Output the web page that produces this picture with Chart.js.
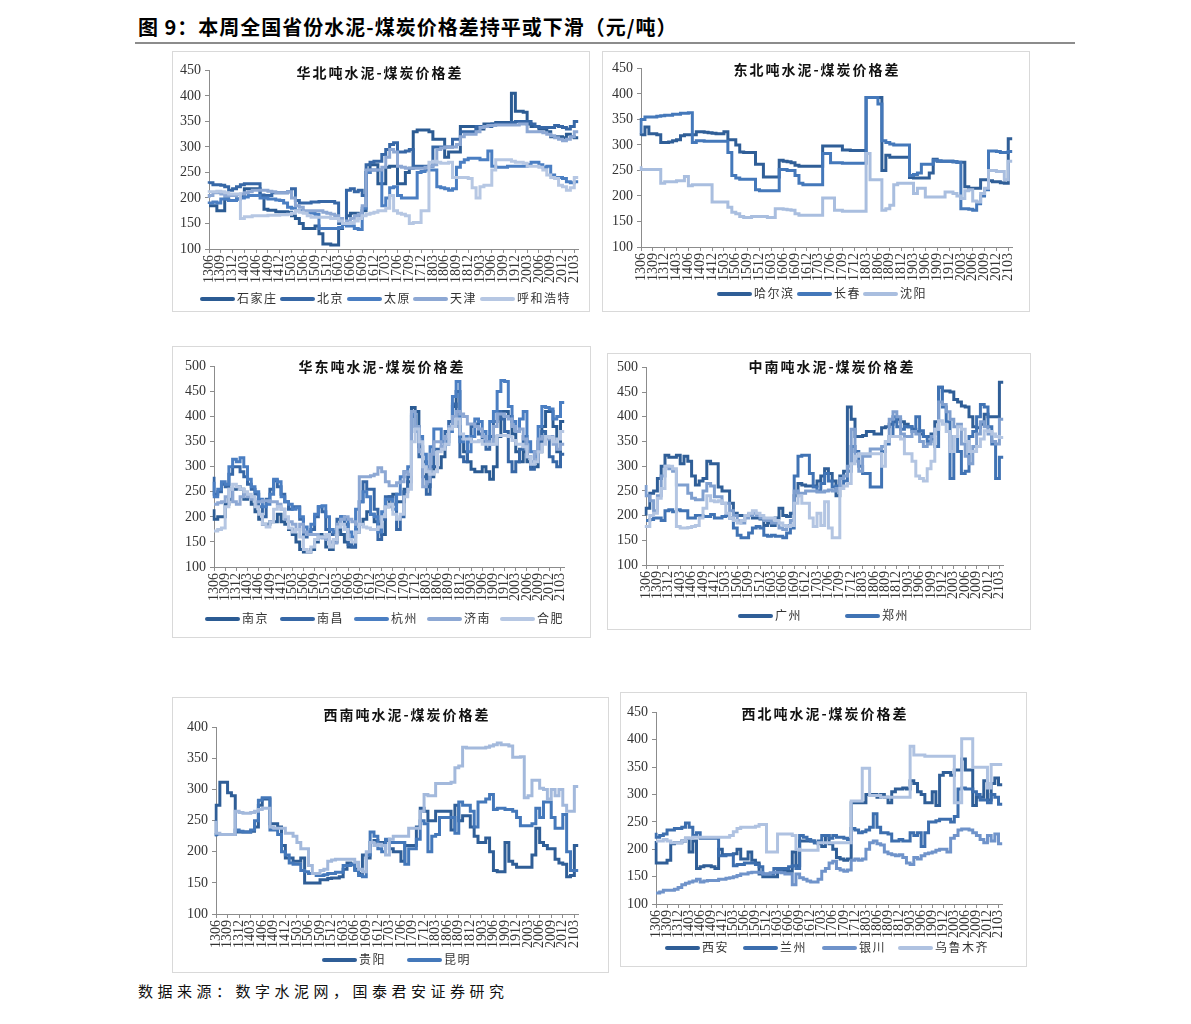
<!DOCTYPE html>
<html>
<head>
<meta charset="utf-8">
<script src="https://cdn.jsdelivr.net/npm/chart.js@4.4.0/dist/chart.umd.min.js"></script>
<style>
body { margin: 0; background: #fff; width: 1191px; height: 1024px; position: relative; overflow: hidden; font-family: "Noto Sans CJK SC", sans-serif; }
.box { position: absolute; border: 1px solid #d9d9d9; box-sizing: border-box; }
.cv { position: absolute; }
.ttl { position: absolute; font-weight: bold; font-size: 14px; letter-spacing: 2px; white-space: nowrap; color: #111; transform: translate(-50%, -50%); }
.lg { position: absolute; font-size: 12px; color: #333; white-space: nowrap; letter-spacing: 1.5px; line-height: 16px; transform: translateY(-50%); }
.lg .mk { display: inline-block; width: 35px; height: 4px; border-radius: 2px; vertical-align: middle; margin-right: 2px; position: relative; top: -1px; }
#head { position: absolute; left: 138px; top: 12px; font-size: 20px; font-weight: bold; letter-spacing: 1px; color: #000; white-space: nowrap; }
#rule { position: absolute; left: 135px; top: 42px; width: 940px; height: 2px; background: #8c8c8c; }
#src { position: absolute; left: 138px; top: 980px; font-size: 15px; letter-spacing: 4.5px; color: #111; white-space: nowrap; }
</style>
</head>
<body>
<div id="head">图 9：本周全国省份水泥-煤炭价格差持平或下滑（元/吨）</div>
<div id="rule"></div>
<div id="src">数据来源：数字水泥网，国泰君安证券研究</div>
<script>
// monthly categories 2013-06 .. 2021-04
const months = [
  '1306','1307','1308','1309','1310','1311','1312',
  '1401','1402','1403','1404','1405','1406','1407','1408','1409','1410','1411','1412',
  '1501','1502','1503','1504','1505','1506','1507','1508','1509','1510','1511','1512',
  '1601','1602','1603','1604','1605','1606','1607','1608','1609','1610','1611','1612',
  '1701','1702','1703','1704','1705','1706','1707','1708','1709','1710','1711','1712',
  '1801','1802','1803','1804','1805','1806','1807','1808','1809','1810','1811','1812',
  '1901','1902','1903','1904','1905','1906','1907','1908','1909','1910','1911','1912',
  '2001','2002','2003','2004','2005','2006','2007','2008','2009','2010','2011','2012',
  '2101','2102','2103','2104'
];

// 华北
const shijiazhuang = [185,185,185,175,175,198,195,
  195,198,205,218,218,218,218,205,178,176,176,173,
  173,173,172,165,160,150,140,140,140,145,130,110,
  110,108,108,140,150,165,170,170,160,175,250,265,
  265,228,228,260,262,262,228,228,250,258,330,333,
  333,333,330,315,315,315,280,290,290,290,340,340,
  340,340,335,335,345,345,345,348,348,348,348,405,
  370,370,368,345,340,340,335,335,330,320,320,320,
  318,325,320,318];
const beijing = [228,230,226,226,225,222,215,
  218,222,226,228,228,228,228,206,205,205,210,210,
  210,210,212,218,195,190,190,190,192,192,193,193,
  193,193,190,150,150,215,218,212,215,205,265,270,
  272,272,285,295,305,308,290,290,292,295,262,262,
  262,262,262,300,300,300,300,300,315,315,330,330,
  330,330,340,340,340,340,345,345,345,345,345,348,
  350,350,350,350,345,340,338,338,338,338,342,340,
  338,335,340,350];
const taiyuan = [188,190,192,190,198,198,195,
  195,198,200,202,205,205,205,200,200,198,198,196,
  195,190,182,180,175,175,172,172,170,168,140,140,
  140,140,140,142,148,145,145,140,138,180,250,255,
  255,255,185,200,220,222,205,200,200,200,200,250,
  252,255,255,255,222,220,218,215,218,260,270,275,
  278,278,278,275,275,292,262,260,260,260,262,262,
  262,262,262,265,270,270,265,260,262,245,240,240,
  238,232,230,232];
const tianjin = [200,205,210,210,208,205,205,
  205,207,208,210,212,215,215,215,215,213,212,210,
  210,210,212,200,185,182,175,175,175,175,175,172,
  170,168,165,160,150,155,160,165,168,185,255,255,
  255,255,260,280,295,290,262,260,258,258,258,258,
  258,260,262,265,295,298,300,300,300,305,320,325,
  325,325,330,338,340,342,342,343,343,343,343,343,
  343,345,345,330,330,330,330,328,325,322,318,315,
  312,315,320,330];
const huhehaote = [210,212,212,213,212,210,208,
  208,208,160,163,163,165,165,165,165,166,166,166,
  167,167,168,170,175,172,170,165,162,162,162,162,
  162,160,160,155,150,150,152,155,160,165,168,170,
  172,175,175,180,205,175,170,168,165,150,152,152,
  175,175,270,272,270,268,268,270,240,240,240,240,
  238,220,200,222,225,225,255,275,275,275,275,272,
  270,270,268,262,262,262,260,255,245,240,238,225,
  222,215,220,240];

// 东北
const haerbin = [318,320,335,322,322,320,305,
  305,306,308,310,318,320,320,320,326,326,325,324,
  323,322,322,326,310,310,300,286,285,285,285,262,
  262,237,237,237,237,270,268,267,265,260,258,258,
  258,258,258,258,298,298,298,298,298,290,290,289,
  289,289,289,393,393,393,393,250,280,276,276,276,
  276,276,236,235,235,235,235,245,272,268,268,268,
  268,267,266,266,218,215,215,215,232,232,230,228,
  228,226,225,312];
const changchun = [322,350,355,355,355,356,357,
  358,358,360,360,362,362,363,305,308,308,307,307,
  307,307,307,307,285,240,235,233,233,233,233,212,
  210,210,210,210,210,252,252,250,250,240,225,222,
  222,222,222,222,283,283,265,265,265,264,264,264,
  264,264,264,393,393,393,380,308,305,302,300,300,
  300,300,240,242,245,262,262,262,270,269,268,268,
  268,267,266,175,175,174,172,185,200,212,288,288,
  287,285,285,287];
const shenyang = [258,252,252,252,252,252,225,
  228,228,228,230,230,238,220,222,222,222,222,222,
  188,188,188,188,178,168,165,160,158,158,160,160,
  160,160,158,158,175,175,174,173,172,165,162,162,
  162,162,162,162,196,196,196,172,172,170,170,170,
  170,170,170,283,232,232,232,172,175,182,222,225,
  225,225,225,205,215,215,198,198,198,198,198,208,
  208,205,200,195,210,212,190,188,205,215,250,250,
  248,248,232,268];

// 华东
const nanjing = [215,195,200,200,225,235,255,
  260,255,235,240,225,210,195,185,185,190,190,205,
  190,185,175,165,150,135,130,130,135,150,165,160,
  140,135,150,175,165,150,140,140,170,185,195,210,
  205,190,185,165,220,240,245,230,230,255,270,418,
  410,340,310,260,280,300,298,320,350,380,420,450,
  360,330,310,295,290,290,300,290,275,300,360,410,
  410,400,365,330,310,330,310,300,300,330,380,410,
  410,380,330,390];
const nanchang = [280,245,250,265,260,285,300,
  300,290,280,265,255,245,220,200,235,255,272,260,
  245,230,215,220,220,195,160,165,175,200,220,210,
  175,165,170,195,200,185,145,140,175,230,270,255,
  255,215,155,195,240,240,225,175,200,250,280,400,
  380,320,280,245,300,335,335,340,370,390,425,380,
  320,310,350,380,385,365,350,335,360,390,410,395,
  370,310,290,310,335,360,320,295,310,350,370,360,
  320,310,300,325];
const hangzhou = [270,240,255,270,265,300,315,
  310,318,300,275,260,250,235,220,225,245,275,270,
  240,230,225,215,218,200,180,170,185,205,220,222,
  200,175,170,180,200,195,170,160,215,230,250,240,
  205,200,170,210,235,235,215,245,280,290,300,405,
  370,360,325,300,340,375,375,350,345,370,440,470,
  350,360,330,360,395,390,370,350,390,410,450,472,
  470,420,390,370,395,410,350,330,320,380,420,418,
  415,395,400,428];
const jinan = [225,225,228,230,240,255,230,
  225,240,245,240,235,230,230,232,232,230,230,225,
  215,195,190,185,175,185,170,165,165,165,160,158,
  155,150,148,185,195,200,195,190,185,280,280,280,
  282,285,298,290,270,262,262,268,270,290,285,410,
  380,330,260,270,325,350,350,340,360,380,400,410,
  405,400,385,385,380,375,360,350,345,380,405,405,
  400,395,380,370,375,355,320,310,330,355,360,355,
  360,345,335,345];
const hefei = [172,172,175,178,220,255,265,
  260,255,250,245,240,220,205,185,180,190,215,220,
  215,200,178,170,175,160,135,130,140,155,160,160,
  165,140,155,180,185,175,155,150,170,185,180,178,
  175,175,180,200,220,225,205,195,205,240,255,350,
  375,350,300,290,285,290,330,335,345,375,380,395,
  365,355,355,350,350,352,345,345,345,345,362,362,
  362,360,352,345,345,340,320,305,310,330,345,360,
  358,350,355,370];

// 中南 (legend names only 广州, 郑州)
const guangzhou = [200,215,245,250,275,300,322,
  318,318,322,305,320,310,280,262,270,275,310,305,
  305,258,250,250,225,205,200,200,200,202,195,195,
  193,180,185,180,195,215,200,198,205,240,265,262,
  260,260,260,270,280,295,285,270,240,280,290,420,
  395,360,360,362,370,370,365,365,378,380,385,390,
  395,390,385,380,375,370,365,360,360,365,390,460,
  452,452,450,435,430,422,420,400,380,378,385,405,
  400,400,400,470];
const zhengzhou = [190,190,192,195,195,190,210,
  212,208,212,210,210,195,195,200,200,198,198,202,
  195,195,198,200,195,175,160,155,155,165,175,178,
  175,160,158,160,158,158,155,165,175,280,320,322,
  322,285,258,250,265,285,270,258,260,255,270,290,
  340,330,300,285,285,258,258,258,330,345,360,400,
  380,375,380,380,370,400,372,360,350,355,340,460,
  420,390,275,360,330,285,290,360,370,400,425,420,
  380,345,275,318];
const zhongnan3 = [262,240,230,210,240,280,300,
  295,290,262,262,262,245,235,232,232,250,265,260,
  238,238,225,225,210,200,190,185,195,200,205,200,
  195,190,190,185,185,175,172,180,190,250,245,245,
  250,250,250,248,248,250,252,250,255,275,280,300,
  375,310,290,320,320,335,335,335,340,350,395,410,
  400,365,360,360,370,365,350,340,345,360,375,430,
  425,410,395,380,385,345,320,305,340,365,390,380,
  365,350,345,395];
const zhongnan4 = [175,178,200,205,235,255,300,
  300,295,178,175,175,176,178,180,195,215,240,230,
  228,230,225,205,195,190,185,190,200,205,210,205,
  200,195,195,195,190,185,180,178,180,225,240,225,
  225,195,178,205,180,228,175,155,155,255,260,265,
  305,320,325,325,325,325,325,325,300,350,360,360,
  360,355,325,325,310,280,275,270,295,310,375,392,
  385,370,330,360,380,375,350,330,330,340,355,372,
  370,365,360,358];

// 西南 (legend names only 贵阳, 昆明)
const guiyang = [225,275,312,312,295,290,232,
  232,232,232,233,240,275,285,285,245,245,240,210,
  190,190,185,185,190,150,150,150,150,155,155,157,
  158,158,160,172,182,180,172,165,195,190,215,218,
  215,215,218,205,200,200,185,210,210,210,240,270,
  265,250,250,265,265,265,265,235,275,250,258,258,
  240,225,215,215,222,200,170,168,168,215,185,180,
  175,175,175,175,195,238,215,210,205,205,188,182,
  180,160,162,210];
const kunming = [225,228,228,228,228,228,235,
  233,232,232,235,250,283,287,287,235,235,228,200,
  195,182,180,180,170,168,165,165,162,162,163,165,
  165,167,167,178,178,180,170,162,160,195,232,225,
  205,200,220,215,215,215,215,180,205,205,220,250,
  245,200,225,228,255,255,255,255,230,280,275,275,
  265,240,280,280,285,292,268,270,270,268,268,265,
  255,242,242,242,245,270,255,280,280,255,238,238,
  260,200,170,170];
const xinan3 = [250,230,228,228,228,228,265,
  263,262,262,263,265,268,270,270,240,238,238,238,
  230,230,225,215,205,205,178,165,165,170,172,185,
  187,188,188,188,188,188,183,172,168,200,215,210,
  212,210,195,220,225,225,225,225,238,238,238,265,
  292,290,290,310,310,310,310,312,335,338,368,367,
  367,367,367,367,368,370,372,375,372,372,370,352,
  352,353,287,290,315,315,302,300,285,300,290,300,
  275,265,265,305];

// 西北
const xian = [215,175,175,175,180,210,212,
  212,215,220,195,215,165,168,170,170,168,165,200,
  190,190,190,192,200,182,182,195,180,175,155,150,
  150,150,150,160,160,160,160,195,170,215,215,215,
  215,212,210,205,225,210,200,185,182,180,182,285,
  285,285,285,300,300,300,295,300,295,285,305,310,
  310,312,310,325,320,305,300,285,285,305,280,335,
  340,340,335,345,345,365,345,345,280,295,295,325,
  290,320,330,318];
const lanzhou = [230,222,225,228,235,235,238,
  238,240,248,240,225,230,220,220,220,220,220,188,
  188,190,190,170,172,172,175,175,175,172,168,155,
  155,155,165,165,165,165,168,170,165,225,222,218,
  215,212,215,225,225,220,225,222,222,220,218,238,
  235,230,232,235,240,265,240,230,230,228,215,215,
  218,215,215,230,225,230,205,230,250,250,252,255,
  255,255,250,260,310,312,310,310,305,300,290,290,
  285,300,295,282];
const yinchuan = [120,120,122,125,125,125,127,
  130,135,138,140,142,145,140,142,143,143,143,145,
  145,147,148,150,152,155,155,157,158,158,157,155,
  155,157,158,158,157,155,155,135,155,148,145,142,
  140,140,145,160,165,175,178,165,162,160,162,180,
  182,180,182,200,212,215,210,208,195,192,190,188,
  190,185,175,172,185,182,188,192,193,195,198,200,
  200,195,220,225,235,237,237,235,230,225,218,212,
  225,215,228,210];
const wulumuqi = [215,215,215,218,215,212,212,
  212,215,220,220,222,222,222,222,222,222,222,222,
  222,222,225,232,238,240,240,240,240,242,245,245,
  195,195,195,228,228,228,228,225,200,198,198,198,
  198,198,212,212,212,212,212,212,212,212,212,288,
  288,288,348,348,298,298,298,295,295,295,295,295,
  295,295,295,388,372,372,372,370,370,370,370,370,
  370,370,370,285,285,402,402,402,350,350,350,350,
  312,355,355,355];

const C5 = ['#2b5b93', '#3667a6', '#4a7ec2', '#8da8d4', '#b6c7e3'];

// layout: box [l,t,r,b], plot [x0, yTop, x1, yBottom], title centre, legend
const panels = [
  { title: '华北吨水泥-煤炭价格差', box: [172, 51, 590, 312], plot: [208.7, 68.3, 587, 249], y: [100, 450], tt: [380, 72],
    series: [['石家庄', shijiazhuang, C5[0]], ['北京', beijing, C5[1]], ['太原', taiyuan, C5[2]], ['天津', tianjin, C5[3]], ['呼和浩特', huhehaote, C5[4]]],
    nLeg: 5, lgX: [200, 280, 347, 413, 480], lgY: 298 },
  { title: '东北吨水泥-煤炭价格差', box: [602, 51, 1030, 312], plot: [640.7, 66, 1020.5, 246.7], y: [100, 450], tt: [817, 69],
    series: [['哈尔滨', haerbin, '#2f5e97'], ['长春', changchun, '#4478ba'], ['沈阳', shenyang, '#a9bedf']],
    nLeg: 3, lgX: [717, 797, 863], lgY: 293 },
  { title: '华东吨水泥-煤炭价格差', box: [172, 346, 591, 638], plot: [213.7, 364, 572.5, 567.3], y: [100, 500], tt: [382, 366],
    series: [['南京', nanjing, C5[0]], ['南昌', nanchang, C5[1]], ['杭州', hangzhou, C5[2]], ['济南', jinan, C5[3]], ['合肥', hefei, C5[4]]],
    nLeg: 5, lgX: [205, 280, 354, 427, 500], lgY: 618 },
  { title: '中南吨水泥-煤炭价格差', box: [607, 353, 1031, 630], plot: [645.7, 365, 1012.2, 565], y: [100, 500], tt: [832, 366],
    series: [['广州', guangzhou, '#2f5e97'], ['郑州', zhengzhou, '#4073b4'], ['', zhongnan3, '#7f9fcf'], ['', zhongnan4, '#b3c5e2']],
    nLeg: 2, lgX: [738, 845], lgY: 615 },
  { title: '西南吨水泥-煤炭价格差', box: [172, 697, 609, 973], plot: [216, 725, 586.6, 914.3], y: [100, 400], tt: [407, 714],
    series: [['贵阳', guiyang, '#2f5e97'], ['昆明', kunming, '#4478ba'], ['', xinan3, '#a3b9dc']],
    nLeg: 2, lgX: [322, 407], lgY: 959 },
  { title: '西北吨水泥-煤炭价格差', box: [620, 692, 1027, 967], plot: [655.7, 710, 1010.5, 904], y: [100, 450], tt: [825, 713],
    series: [['西安', xian, '#2f5e97'], ['兰州', lanzhou, '#3c6eae'], ['银川', yinchuan, '#6f93ca'], ['乌鲁木齐', wulumuqi, '#afc2e1']],
    nLeg: 4, lgX: [665, 743, 822, 898], lgY: 947 }
];

const PAD_L = 48, PAD_T = 10, PAD_R = 10, AX_H = 45;

function addDiv(cls, html, css) {
  const d = document.createElement('div');
  d.className = cls;
  d.innerHTML = html;
  Object.assign(d.style, css);
  document.body.appendChild(d);
  return d;
}

function buildPanel(p) {
  const [bl, bt, br, bb] = p.box;
  addDiv('box', '', { left: bl + 'px', top: bt + 'px', width: (br - bl) + 'px', height: (bb - bt) + 'px' });

  const [x0, yT, x1, yB] = p.plot;
  const left = Math.round(x0 - PAD_L);
  const top = Math.round(yT - PAD_T);
  const cv = document.createElement('canvas');
  cv.className = 'cv';
  cv.width = Math.round(x1) - left + PAD_R;
  cv.height = Math.round(yB) - top + AX_H;
  cv.style.left = left + 'px';
  cv.style.top = top + 'px';
  document.body.appendChild(cv);

  new Chart(cv, {
    type: 'line',
    data: {
      labels: months,
      datasets: p.series.map((s, k) => ({
        label: s[0],
        data: s[1],
        borderColor: s[2],
        backgroundColor: s[2],
        borderWidth: 3,
        pointRadius: 0,
        stepped: 'after',
        fill: false,
        order: -k
      }))
    },
    options: {
      responsive: false,
      animation: false,
      devicePixelRatio: 1,
      layout: { padding: { left: 0, top: PAD_T, right: PAD_R, bottom: 0 } },
      plugins: { legend: { display: false }, tooltip: { enabled: false } },
      scales: {
        x: {
          offset: false,
          border: { color: '#8c8c8c' },
          grid: {
            drawOnChartArea: false,
            tickLength: 4,
            tickColor: c => (c.index % 3 === 0 ? '#8c8c8c' : 'rgba(0,0,0,0)')
          },
          ticks: {
            autoSkip: false,
            maxRotation: 90,
            minRotation: 90,
            padding: 2,
            color: '#333',
            font: { family: 'Liberation Serif', size: 14 },
            callback: (v, i) => (i % 3 === 0 ? months[i] : '')
          },
          afterFit: s => { s.height = AX_H; }
        },
        y: {
          min: p.y[0],
          max: p.y[1],
          border: { color: '#8c8c8c' },
          grid: { drawOnChartArea: false, tickLength: 4, color: '#8c8c8c' },
          ticks: { stepSize: 50, padding: 4, color: '#333', font: { family: 'Liberation Serif', size: 14 } },
          afterFit: s => { s.width = PAD_L; }
        }
      }
    }
  });

  addDiv('ttl', p.title, { left: p.tt[0] + 'px', top: p.tt[1] + 'px' });

  p.series.slice(0, p.nLeg).forEach((s, k) => {
    addDiv('lg', '<span class="mk" style="background:' + s[2] + '"></span>' + s[0],
      { left: p.lgX[k] + 'px', top: p.lgY + 'px' });
  });
}

panels.forEach(buildPanel);
</script>
</body>
</html>
